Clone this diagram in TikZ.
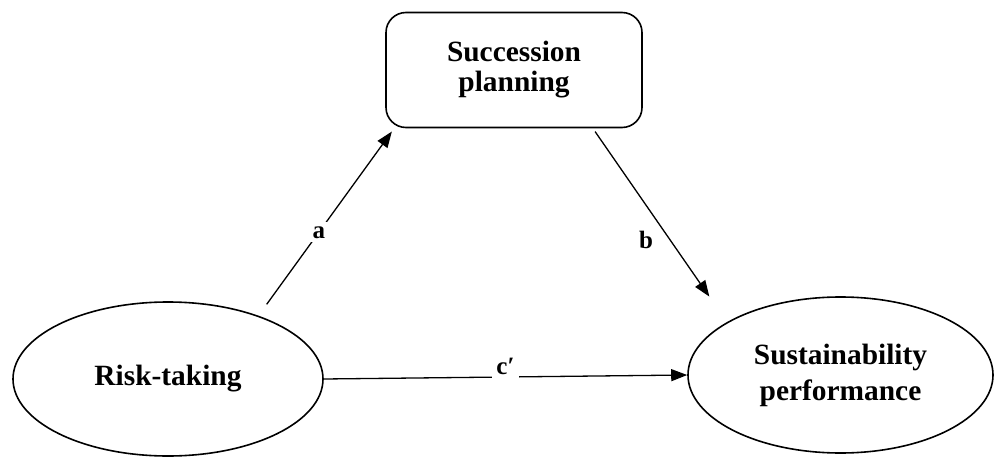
\documentclass[tikz,border=0pt]{standalone}
\usepackage{fontspec}
\setmainfont{Liberation Serif}
\usetikzlibrary{shapes.geometric,arrows.meta}

\begin{document}
\begin{tikzpicture}[x=1pt,y=-1pt,
        construct/.style={draw, line width=1.6pt, ellipse, inner sep=0pt, align=center, font=\fontsize{29.4}{36}\selectfont\bfseries},
        mediator/.style={draw, line width=1.6pt, rounded corners=20pt, inner sep=0pt, minimum width=256pt, minimum height=115pt, align=center, font=\fontsize{29.4}{30}\selectfont\bfseries},
        effect/.style={line width=1.3pt, -{Triangle[length=16pt,width=12pt]}},
        coef/.style={fill=white, inner sep=4pt, font=\fontsize{25}{25}\selectfont\bfseries}]
        \useasboundingbox (0,0) rectangle (995,457);

        \node[mediator] (sp) at (514,70) {Succession\\planning};
        \node[construct, minimum width=310pt, minimum height=154pt] (rt) at (168,379) {Risk-taking};
        \node[construct, minimum width=305pt, minimum height=156pt] (sus) at (840.5,375) {Sustainability\\performance};

        \draw[effect, shorten <=14pt, shorten >=4pt] (rt.35) -- ([xshift=9pt]sp.south west) node[coef, pos=0.445] {a};
        \draw[effect, shorten <=4pt, shorten >=31pt] ([xshift=-50pt]sp.south east) -- (sus.155) node[coef, pos=0.576, xshift=-24pt] {b};
        \draw[effect] (rt.east) -- (sus.west) node[coef, pos=0.5, above, yshift=-2pt] {c′};
    \end{tikzpicture}
\end{document}
